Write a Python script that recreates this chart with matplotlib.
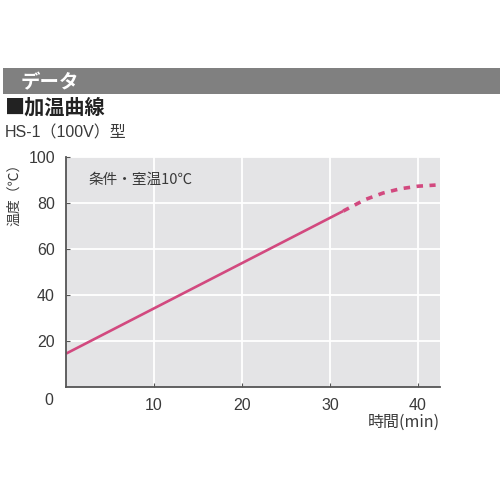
import matplotlib.pyplot as plt

plt.rcParams['font.family'] = ['Noto Sans CJK JP', 'DejaVu Sans']

# data
solid_min = [0, 31.5]
solid_temp = [14.5, 76.5]
dashed_min = [31.5, 34, 36, 38, 40, 42]
dashed_temp = [76.5, 81.5, 84.3, 86.2, 87.3, 87.8]
x_ticks = [10, 20, 30, 40]
y_ticks = [20, 40, 60, 80, 100]

TEXT = '#3a3a3a'
PINK = '#d2497f'
NUM_FONT = ['Liberation Sans', 'Noto Sans CJK JP']

fig = plt.figure(figsize=(5, 5), dpi=100)

# grey header band
band = fig.add_axes([0.006, 0.812, 0.994, 0.052])
band.set_facecolor('#808080')
band.set_xticks([])
band.set_yticks([])
for s in band.spines.values():
    s.set_visible(False)
band.text(0.035, 0.45, 'データ', color='white', fontsize=14, fontweight='bold',
          va='center', ha='left', transform=band.transAxes)

fig.text(0.01, 0.786, '■加温曲線', fontsize=14.5, fontweight='bold', color='#222222',
         va='center', ha='left')
fig.text(0.01, 0.734, 'HS-1（100V）型', fontsize=11.5, color=TEXT, va='center', ha='left',
         family=NUM_FONT)

ax = fig.add_axes([0.132, 0.226, 0.748, 0.46])
ax.set_facecolor('#e4e4e6')
ax.plot(solid_min, solid_temp, color=PINK, lw=1.9, solid_capstyle='butt')
ax.plot(dashed_min, dashed_temp, color=PINK, lw=2.6, linestyle=(0, (1.8, 1.8)))

ax.set_xlim(0, 42.5)
ax.set_ylim(0, 100)
ax.set_xticks(x_ticks)
ax.set_yticks(y_ticks)
ax.grid(True, color='white', lw=1.3)
ax.set_axisbelow(True)
for s in ['top', 'right']:
    ax.spines[s].set_visible(False)
for s in ['left', 'bottom']:
    ax.spines[s].set_color('#555555')
    ax.spines[s].set_linewidth(1.3)
ax.tick_params(axis='both', colors='#555555', labelcolor=TEXT, labelsize=11.5,
               length=3, direction='in', pad=8)
for lab in ax.get_xticklabels() + ax.get_yticklabels():
    lab.set_family(NUM_FONT)

ax.text(-0.045, -0.06, '0', transform=ax.transAxes, fontsize=11.5, color=TEXT,
        ha='center', va='center', family=NUM_FONT)
ax.text(0.06, 0.9, '条件・室温10℃', transform=ax.transAxes, fontsize=10.5,
        color=TEXT, ha='left', va='center')
ax.text(1.0, -0.155, '時間(min)', transform=ax.transAxes, fontsize=11.5,
        color=TEXT, ha='right', va='center')
ax.text(-0.14, 1.0, '温度（℃）', transform=ax.transAxes, fontsize=10,
        color=TEXT, ha='center', va='top', rotation=90)

fig.savefig('out.png', dpi=100)
